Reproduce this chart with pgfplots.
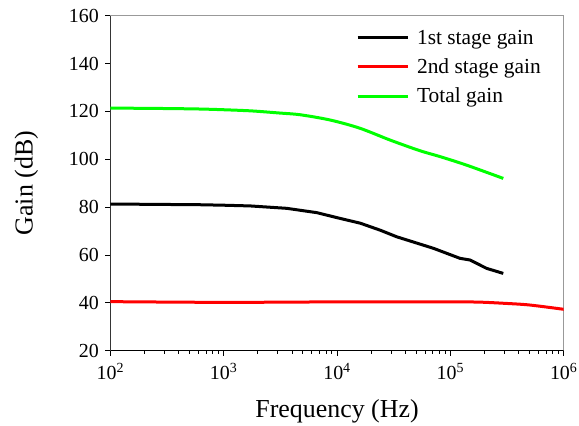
\documentclass[border=0pt]{standalone}
\usepackage{pgfplots}
\pgfplotsset{compat=1.18}
\usepackage{fontspec}
\setmainfont{Liberation Serif}
\begin{document}
\begin{tikzpicture}
\useasboundingbox (-110.3bp,-75.3bp) rectangle (468.7bp,350.7bp);
\begin{axis}[
  scale only axis, width=453.4bp, height=335bp,
  xmode=log, xmin=1e2, xmax=1e6, ymin=20, ymax=160,
  xtick={1e2,1e3,1e4,1e5,1e6},
  xticklabels={10\textsuperscript{2},10\textsuperscript{3},10\textsuperscript{4},10\textsuperscript{5},10\textsuperscript{6}},
  ytick={20,40,...,160},
  minor xtick={}, minor ytick={},
  /pgf/number format/assume math mode=true,
  tick align=outside, tick pos=left,
  major tick length=5bp,
  tick style={black, line width=0.8bp},
  ticklabel style={font=\fontsize{20}{22}\selectfont},
  xticklabel style={yshift=-4bp},
  yticklabel style={xshift=-3bp},
  axis line style={gray!80, line width=0.8bp},
  xlabel={Frequency (Hz)}, ylabel={Gain (dB)},
  every axis x label/.style={at={(rel axis cs:0.5,0)}, yshift=-61bp, anchor=center, font=\fontsize{26}{28}\selectfont},
  every axis y label/.style={at={(rel axis cs:0,0.5)}, xshift=-84bp, rotate=90, anchor=center, font=\fontsize{26}{28}\selectfont},
  legend style={at={(0.535,0.97)}, anchor=north west, draw=none, fill=none,
    font=\fontsize{21.5}{24}\selectfont, row sep=9bp},
  legend cell align=left,
  legend image code/.code={\draw[#1] (0bp,0bp) -- (50bp,0bp); \path (56bp,0bp);},
]
\draw[black, line width=0.8bp] (rel axis cs:0,1) -- (rel axis cs:0,0) -- (rel axis cs:1,0);
\addplot[black, line width=3bp] coordinates {
 (100,81.3) (617,81.0) (1000,80.8) (1714,80.5) (3597,79.5) (6622,77.7) (10617,75.3)
 (16000,73.3) (23930,70.4) (33650,67.6) (70790,62.8) (121620,58.6) (148940,57.9) (208930,54.4) (293090,52.3)};
\addlegendentry{1st stage gain}
\addplot[red, line width=3bp, smooth] coordinates {
 (100,40.5) (1000,40.2) (10000,40.4) (100000,40.4) (180000,40.3) (300000,39.8) (500000,39.1) (1000000,37.3)};
\addlegendentry{2nd stage gain}
\addplot[green, line width=3bp, smooth] coordinates {
 (100,121.4) (316,121.2) (617,121.0) (1000,120.7) (1778,120.2) (3162,119.3) (4742,118.6) (8710,116.4)
 (15849,113.0) (29512,108.0) (53703,103.6) (81283,101.1) (138038,97.6) (293090,92.0)};
\addlegendentry{Total gain}
\end{axis}
\end{tikzpicture}
\end{document}
